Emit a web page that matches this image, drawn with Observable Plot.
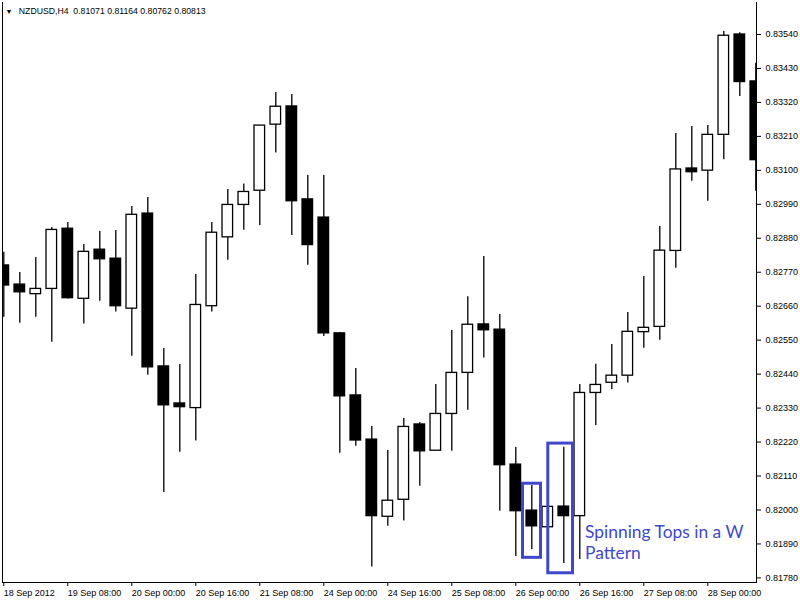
<!DOCTYPE html>
<html>
<head>
<meta charset="utf-8">
<script src="https://cdn.jsdelivr.net/npm/d3@7"></script>
<script src="https://cdn.jsdelivr.net/npm/@observablehq/plot@0.6"></script>
<style>
  html, body { margin: 0; padding: 0; background: #fff; }
  #chart svg { display: block; }
</style>
</head>
<body>
<div id="chart"></div>
<script>
// NZDUSD H4 candles
const opens  = [0.82792,0.82730,0.82699,0.82716,0.82911,0.82684,0.82843,0.82814,0.82652,0.82960,0.82465,0.82345,0.82330,0.82660,0.82883,0.82988,0.83034,0.83248,0.83307,0.83006,0.82947,0.82572,0.82371,0.82228,0.81978,0.82033,0.82277,0.82192,0.82311,0.82444,0.82601,0.82584,0.82147,0.81998,0.81944,0.82011,0.81980,0.82379,0.82412,0.82435,0.82576,0.82593,0.82839,0.83106,0.83099,0.83215,0.83540,0.83388];
const highs  = [0.82835,0.82769,0.82818,0.82915,0.82931,0.82860,0.82902,0.82905,0.82983,0.83012,0.82523,0.82471,0.82763,0.82931,0.83038,0.83056,0.83245,0.83352,0.83346,0.83083,0.83083,0.82575,0.82458,0.82270,0.82193,0.82296,0.82283,0.82406,0.82581,0.82691,0.82821,0.82633,0.82202,0.82079,0.82010,0.82203,0.82406,0.82472,0.82536,0.82640,0.82756,0.82918,0.83219,0.83242,0.83245,0.83550,0.83546,0.83447];
const lows   = [0.82624,0.82605,0.82624,0.82543,0.82683,0.82602,0.82676,0.82641,0.82498,0.82436,0.82057,0.82187,0.82223,0.82641,0.82809,0.82906,0.82921,0.83156,0.82889,0.82793,0.82562,0.82184,0.82206,0.81815,0.81947,0.81964,0.82077,0.82192,0.82190,0.82323,0.82492,0.81996,0.81849,0.81872,0.81944,0.81827,0.81840,0.82274,0.82390,0.82411,0.82524,0.82550,0.82783,0.83065,0.83000,0.83134,0.83339,0.83032];
const closes = [0.82727,0.82705,0.82716,0.82907,0.82686,0.82836,0.82812,0.82660,0.82956,0.82462,0.82339,0.82333,0.82664,0.82898,0.82988,0.83030,0.83245,0.83306,0.83000,0.82858,0.82572,0.82368,0.82225,0.81980,0.82030,0.82269,0.82190,0.82311,0.82444,0.82600,0.82582,0.82145,0.81996,0.81947,0.82010,0.81980,0.82379,0.82405,0.82435,0.82577,0.82590,0.82840,0.83103,0.83094,0.83215,0.83536,0.83386,0.83133];

// Axis ticks
const xTickIdx = [0,4,8,12,16,20,24,28,32,36,40,44];
const xLabels  = ["18 Sep 2012","19 Sep 08:00","20 Sep 00:00","20 Sep 16:00","21 Sep 08:00","24 Sep 00:00","24 Sep 16:00","25 Sep 08:00","26 Sep 00:00","26 Sep 16:00","27 Sep 08:00","28 Sep 00:00"];
const yTicks   = [0.81780,0.81890,0.82000,0.82110,0.82220,0.82330,0.82440,0.82550,0.82660,0.82770,0.82880,0.82990,0.83100,0.83210,0.83320,0.83430,0.83540];

// Header
const titleText = "NZDUSD,H4\u00a0 0.81071 0.81164 0.80762 0.80813";

// Annotation boxes (bar index / price)
const boxX1   = [32.45, 34.03];
const boxX2   = [33.575, 35.575];
const boxLow  = [0.81845, 0.81795];
const boxHigh = [0.82085, 0.82215];
const noteLabel = ["Spinning Tops in a W\nPattern"];
const noteX = [36.33];
const noteY = [0.81898];

const candles = opens.map((o, i) => ({i, open: o, high: highs[i], low: lows[i], close: closes[i]}));
const boxes = boxX1.map((x1, k) => ({x1, x2: boxX2[k], y1: boxLow[k], y2: boxHigh[k]}));

const chart = Plot.plot({
  width: 800,
  height: 600,
  marginLeft: 2,
  marginRight: 44,
  marginTop: 2,
  marginBottom: 18,
  style: {fontFamily: "'Liberation Sans', Arial, sans-serif", fontSize: "9px", background: "#fff", color: "#000"},
  x: {type: "linear", domain: [0, 47], range: [3.3, 755.3], axis: null},
  y: {type: "linear", domain: [0.81780, 0.83540], range: [577.4, 34], axis: null},
  marks: [
    Plot.ruleX(candles, {x: "i", y1: "low", y2: "high", stroke: "#000", strokeWidth: 1.3, clip: true}),
    Plot.rect(candles, {
      x1: d => d.i - 0.33, x2: d => d.i + 0.33,
      y1: "open", y2: "close",
      fill: d => d.close >= d.open ? "#fff" : "#000",
      stroke: "#000", strokeWidth: 1.3, clip: true
    }),
    Plot.frame({anchor: "left", stroke: "#000"}),
    Plot.frame({anchor: "bottom", stroke: "#000"}),
    Plot.frame({anchor: "right", stroke: "#000"}),
    Plot.axisY(yTicks, {anchor: "right", tickFormat: d => d.toFixed(5), tickSize: 4, tickPadding: 5, fontSize: 9, stroke: "#000", fill: "#000"}),
    Plot.axisX(xTickIdx, {anchor: "bottom", tickFormat: d => xLabels[xTickIdx.indexOf(d)], tickSize: 4, tickPadding: 3, textAnchor: "start", fontSize: 9, stroke: "#000", fill: "#000"}),
    Plot.rect(boxes, {x1: "x1", x2: "x2", y1: "y1", y2: "y2", fill: "none", stroke: "#3F48CC", strokeWidth: 3}),
    Plot.text(noteLabel, {x: noteX, y: noteY, text: d => d, textAnchor: "start", lineAnchor: "middle", lineHeight: 1.25, fontSize: 17.4, fontFamily: "Lato, 'Open Sans', sans-serif", fill: "#3F48CC"}),
    Plot.text(["\u25BC"], {frameAnchor: "top-left", dx: 6.5, dy: 9, fontSize: 7, fill: "#000", textAnchor: "middle", lineAnchor: "middle"}),
    Plot.text([titleText], {frameAnchor: "top-left", dx: 16.3, dy: 8.8, fontSize: 8.7, fill: "#000", textAnchor: "start", lineAnchor: "middle"})
  ]
});
document.getElementById("chart").appendChild(chart);
</script>
</body>
</html>
